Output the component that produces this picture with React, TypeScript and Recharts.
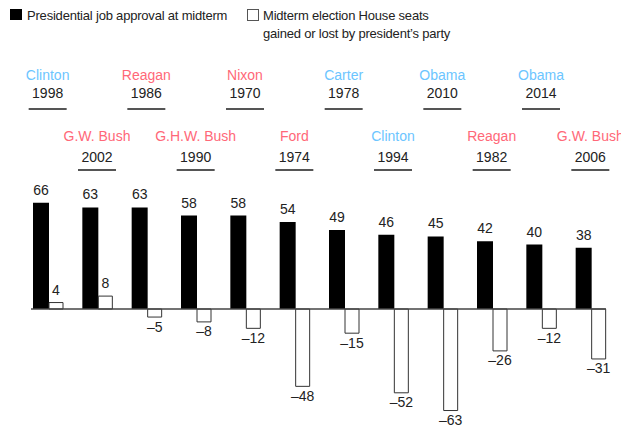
import React from "react";
import { Bar, BarChart, LabelList, Legend, ReferenceLine, XAxis, YAxis } from "recharts";

const years = ["1998", "2002", "1986", "1990", "1970", "1974", "1978", "1994", "2010", "1982", "2014", "2006"];
const presidents = ["Clinton", "G.W. Bush", "Reagan", "G.H.W. Bush", "Nixon", "Ford", "Carter", "Clinton", "Obama", "Reagan", "Obama", "G.W. Bush"];
const parties = ["D", "R", "R", "R", "R", "R", "D", "D", "D", "R", "D", "R"];
const approval = [66, 63, 63, 58, 58, 54, 49, 46, 45, 42, 40, 38];
const seats = [4, 8, -5, -8, -12, -48, -15, -52, -63, -26, -12, -31];

const FONT = '"Liberation Sans", Arial, sans-serif';
const DEM = "#6cc5ff";
const REP = "#ff6878";

const data = years.map((y, i) => ({
  year: y,
  president: presidents[i],
  party: parties[i],
  approval: approval[i],
  seats: seats[i],
}));

function fmt(v: number) {
  return v < 0 ? "\u2013" + Math.abs(v) : String(v);
}

function YearTick(props: any) {
  const { x, y, index } = props;
  const d = data[index];
  if (!d) return null;
  const upper = index % 2 === 0;
  const nameY = upper ? y - 117.5 : y - 56;
  const yearY = upper ? y - 99 : y - 35.5;
  const lineY = upper ? y - 88 : y - 27;
  return (
    <g>
      <text x={x} y={nameY} textAnchor="middle" fontSize={14} fontFamily={FONT} fill={d.party === "D" ? DEM : REP}>
        {d.president}
      </text>
      <text x={x} y={yearY} textAnchor="middle" fontSize={14} fontFamily={FONT} fill="#222">
        {d.year}
      </text>
      <line x1={x - 19} x2={x + 19} y1={lineY} y2={lineY} stroke="#555" strokeWidth={2} />
    </g>
  );
}

function ValueLabel(props: any) {
  const { x, y, width, height, value } = props;
  const top = Math.min(y, y + height);
  const bottom = Math.max(y, y + height);
  const cx = x + width / 2;
  if (value >= 0) {
    return (
      <text x={cx} y={top - 8} textAnchor="middle" fontSize={14} fontFamily={FONT} fill="#222">
        {fmt(value)}
      </text>
    );
  }
  return (
    <text x={cx} y={bottom + 14.5} textAnchor="middle" fontSize={14} fontFamily={FONT} fill="#222">
      {fmt(value)}
    </text>
  );
}

function LegendBox() {
  return (
    <div style={{ position: "relative", width: 621, height: 46, fontFamily: FONT, fontSize: 13, color: "#222", letterSpacing: -0.2 }}>
      <div style={{ position: "absolute", left: 10, top: 9, width: 12, height: 11, background: "#000" }} />
      <div style={{ position: "absolute", left: 27, top: 7, lineHeight: "17px" }}>Presidential job approval at midterm</div>
      <div style={{ position: "absolute", left: 247, top: 9, width: 10, height: 10, background: "#fff", border: "1px solid #555" }} />
      <div style={{ position: "absolute", left: 263, top: 7, lineHeight: "18px" }}>
        Midterm election House seats
        <br />
        gained or lost by president’s party
      </div>
    </div>
  );
}

function ZeroLine(props: any) {
  const { x1, x2, y1 } = props;
  return <line x1={x1 + 8} x2={x2 - 9} y1={y1} y2={y1} stroke="#444" strokeWidth={1.5} />;
}

export default function App() {
  return (
    <div style={{ position: "absolute", left: 0, top: 0, background: "#fff" }}>
      <BarChart
        width={621}
        height={426}
        data={data}
        margin={{ top: 0, right: 6, left: 23, bottom: 5 }}
        barGap={0}
        barCategoryGap={9}
      >
        <Legend
          verticalAlign="top"
          align="left"
          content={<LegendBox />}
          wrapperStyle={{ top: 0, left: 0, width: 621, height: 46 }}
        />
        <XAxis
          dataKey="year"
          orientation="top"
          height={151}
          axisLine={false}
          tickLine={false}
          tickSize={0}
          tickMargin={0}
          interval={0}
          tick={<YearTick />}
        />
        <YAxis hide domain={[-69.5, 69.5]} />
        <Bar dataKey="approval" fill="#000" barSize={16} isAnimationActive={false}>
          <LabelList dataKey="approval" content={<ValueLabel />} />
        </Bar>
        <Bar dataKey="seats" fill="#fff" stroke="#333" strokeWidth={1} barSize={14} isAnimationActive={false}>
          <LabelList dataKey="seats" content={<ValueLabel />} />
        </Bar>
        <ReferenceLine y={0} shape={<ZeroLine />} ifOverflow="visible" />
      </BarChart>
    </div>
  );
}
